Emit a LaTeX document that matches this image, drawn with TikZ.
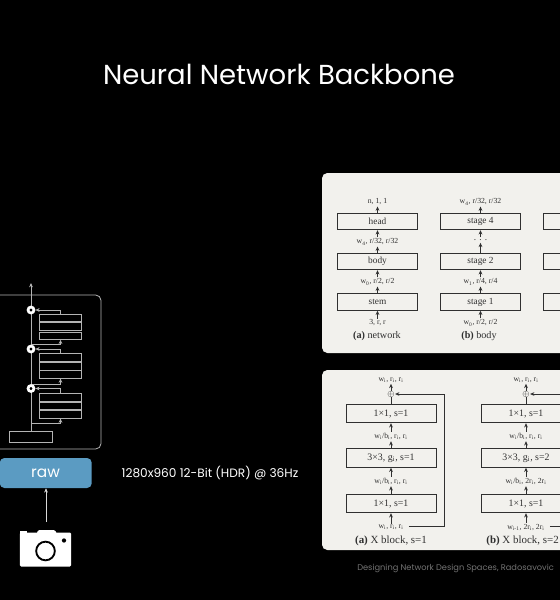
\documentclass[tikz,border=0pt]{standalone}
\usepackage{fontspec}
\setmainfont{Poppins}
\newfontfamily\paperfont{Liberation Serif}
\usetikzlibrary{arrows.meta}
\definecolor{panelgray}{HTML}{F2F1ED}
\definecolor{paperink}{HTML}{303030}
\definecolor{rawblue}{HTML}{5B9BC2}
\definecolor{linegray}{HTML}{B4B4B4}
\tikzset{
  tip/.style={-{Stealth[length=3.2pt,width=2.8pt]}},
  panel/.style={fill=panelgray,rounded corners=4pt},
  blockbox/.style={draw=paperink,fill=panelgray,line width=0.55pt,inner sep=0pt,minimum height=12.5pt,font=\paperfont\fontsize{7}{8}\selectfont,text=paperink},
  xbox/.style={blockbox,minimum width=67.5pt,minimum height=14pt,font=\paperfont\fontsize{7.4}{8}\selectfont},
  shape label/.style={inner sep=0.8pt,font=\paperfont\fontsize{5.8}{6.5}\selectfont,text=paperink},
  caption/.style={inner sep=0pt,font=\paperfont\fontsize{7.6}{9}\selectfont,text=paperink},
  xcaption/.style={caption,font=\paperfont\fontsize{8.2}{10}\selectfont},
  flow/.style={tip,draw=paperink,line width=0.55pt},
  sketch/.style={draw=linegray,line width=0.6pt},
  sketchbox/.style={sketch,inner sep=0pt,minimum width=32pt}
}
\newcommand{\sub}[1]{\textsubscript{#1}}
\begin{document}
\begin{tikzpicture}[x=0.75pt,y=-0.75pt]
\useasboundingbox (0,0) rectangle (560,600);
\fill[black] (0,0) rectangle (560,600);

\node[text=white,inner sep=0pt,font=\fontsize{20.6}{25}\selectfont] (title) at (279,74) {Neural Network Backbone};

% upper panel
\fill[panel] (322,173) rectangle (590,353);
\node[blockbox,minimum width=60.5pt] (head) at (377.5,221.5) {head};
\node[blockbox,minimum width=60.5pt] (body) at (377.5,261.5) {body};
\node[blockbox,minimum width=60.5pt] (stem) at (377.5,302) {stem};
\node[shape label] (sizeIn) at (377.5,323) {3, r, r};
\node[shape label] (sizeStem) at (377.5,282) {w\sub{0}, r/2, r/2};
\node[shape label] (sizeBody) at (377.5,242) {w\sub{4}, r/32, r/32};
\node[shape label] (sizeOut) at (377.5,202) {n, 1, 1};
\node[caption] (capNetwork) at (377,336) {\textbf{(a)} network};
\draw[flow] (sizeIn) -- (stem);
\draw[flow] (stem) -- (sizeStem);
\draw[flow] (sizeStem) -- (body);
\draw[flow] (body) -- (sizeBody);
\draw[flow] (sizeBody) -- (head);
\draw[flow] (head) -- (sizeOut);

\node[blockbox,minimum width=60.5pt] (stageFour) at (480.5,221.5) {stage 4};
\node[blockbox,minimum width=60.5pt] (stageTwo) at (480.5,261.5) {stage 2};
\node[blockbox,minimum width=60.5pt] (stageOne) at (480.5,302) {stage 1};
\node[shape label] (wIn) at (480.5,323) {w\sub{0}, r/2, r/2};
\node[shape label] (wOne) at (480.5,282) {w\sub{1}, r/4, r/4};
\node[shape label,inner sep=1.5pt,font=\paperfont\fontsize{7}{8}\selectfont] (dots) at (480.5,240) {.\hspace{2.4pt}.\hspace{2.4pt}.};
\node[shape label] (wOut) at (480.5,202) {w\sub{4}, r/32, r/32};
\node[caption] (capBody) at (479,336) {\textbf{(b)} body};
\draw[flow] (wIn) -- (stageOne);
\draw[flow] (stageOne) -- (wOne);
\draw[flow] (wOne) -- (stageTwo);
\draw[flow] (stageTwo) -- (dots);
\draw[flow] (dots) -- (stageFour);
\draw[flow] (stageFour) -- (wOut);

\foreach \n/\y in {c/221.5,b/261.5,a/302}
  \node[blockbox,minimum width=60.5pt] (third\n) at (583.5,\y) {};

% lower panel
\fill[panel] (322,370) rectangle (590,550);
\node[xbox] (topA) at (391,413.5) {1×1, s=1};
\node[xbox] (midA) at (391,458) {3×3, g\sub{i}, s=1};
\node[xbox] (lowA) at (391,503.5) {1×1, s=1};
\node[shape label] (inA) at (391,527.5) {w\sub{i}, r\sub{i}, r\sub{i}};
\node[shape label] (wlowA) at (391,481.5) {w\sub{i}/b\sub{i}, r\sub{i}, r\sub{i}};
\node[shape label] (wmidA) at (391,436.5) {w\sub{i}/b\sub{i}, r\sub{i}, r\sub{i}};
\node[text=paperink,inner sep=0pt,font=\fontsize{6.5}{6.5}\selectfont] (oplusA) at (391,394) {$\oplus$};
\node[shape label] (outA) at (391,380) {w\sub{i}, r\sub{i}, r\sub{i}};
\node[xcaption] (capA) at (391,540.5) {\textbf{(a)} X block, s=1};
\coordinate (skipA) at (444,526);
\draw[flow] (inA) -- (lowA);
\draw[flow] (lowA) -- (wlowA);
\draw[flow] (wlowA) -- (midA);
\draw[flow] (midA) -- (wmidA);
\draw[flow] (wmidA) -- (topA);
\draw[flow,-] (topA) -- (oplusA);
\draw[flow] (oplusA) -- (outA);
\draw[flow,shorten <=3pt] (inA.east |- skipA) -- (skipA) |- (oplusA);

\node[xbox] (topB) at (526,413.5) {1×1, s=1};
\node[xbox] (midB) at (526,458) {3×3, g\sub{i}, s=2};
\node[xbox] (lowB) at (526,503.5) {1×1, s=1};
\node[shape label] (inB) at (526,527.5) {w\sub{i-1}, 2r\sub{i}, 2r\sub{i}};
\node[shape label] (wlowB) at (526,481.5) {w\sub{i}/b\sub{i}, 2r\sub{i}, 2r\sub{i}};
\node[shape label] (wmidB) at (526,436.5) {w\sub{i}/b\sub{i}, r\sub{i}, r\sub{i}};
\node[text=paperink,inner sep=0pt,font=\fontsize{6.5}{6.5}\selectfont] (oplusB) at (526,394) {$\oplus$};
\node[shape label] (outB) at (526,380) {w\sub{i}, r\sub{i}, r\sub{i}};
\node[xcaption,anchor=east] (capB) at (559,540.5) {\textbf{(b)} X block, s=2};
\coordinate (skipB) at (579,526);
\draw[flow] (inB) -- (lowB);
\draw[flow] (lowB) -- (wlowB);
\draw[flow] (wlowB) -- (midB);
\draw[flow] (midB) -- (wmidB);
\draw[flow] (wmidB) -- (topB);
\draw[flow,-] (topB) -- (oplusB);
\draw[flow] (oplusB) -- (outB);
\draw[flow,shorten <=3pt] (inB.east |- skipB) -- (skipB) |- (oplusB);

% sketch of the network on the left
\draw[sketch,rounded corners=4pt] (-5,295) -- (101,295) -- (101,449) -- (-5,449);
\node[sketchbox,minimum height=8.5pt] (stemBox) at (31,436.7) {};
\coordinate (top) at (31,283);
\draw[sketch,tip] (stemBox) -- (top);
\foreach \n/\c/\a/\b/\d/\base in {1/310/318/326.5/335.7/344.5,2/349/357.5/366.5/374.5/384,3/388.5/397.5/406/414.5/423.7} {
  \node[draw=white,line width=2pt,circle,fill=black,inner sep=0pt,minimum size=4.5pt] (add\n) at (31,\c) {};
  \node[sketchbox,minimum height=5.5pt] (blockA\n) at (60.5,\a) {};
  \node[sketchbox,minimum height=5.5pt] (blockB\n) at (60.5,\b) {};
  \node[sketchbox,minimum height=5.5pt] (blockC\n) at (60.5,\d) {};
  \coordinate (base\n) at (31,\base);
  \draw[sketch,tip] (base\n) -- (blockC\n.south |- base\n) -- (blockC\n);
  \draw[sketch,tip] (blockA\n) |- (add\n);
}

% raw and camera
\node[fill=rawblue,rounded corners=3.5pt,minimum width=69pt,minimum height=22.5pt,inner sep=0pt,anchor=east] (raw) at (92,473) {};
\node[text=white,inner sep=0pt,font=\fontsize{11.5}{13}\selectfont] (rawText) at (45.5,473) {raw};
\node[fill=white,rounded corners=1pt,minimum width=38.5pt,minimum height=25.5pt,inner sep=0pt] (camera) at (45.5,549.5) {};
\fill[white,rounded corners=1pt] (36,536) -- (38,530) -- (55,530) -- (58,536) -- cycle;
\fill[white] (20,536) rectangle (27,530.5);
\draw[black,line width=1.4pt] (45.5,551) circle (7pt);
\fill[black] (64,540.5) circle (1.6pt);
\coordinate (cameraTop) at (46,522);
\draw[white!85!black,line width=0.6pt,tip] (cameraTop) -- (raw.south -| cameraTop);

\node[text=white,inner sep=0pt,font=\fontsize{9.1}{11}\selectfont] (format) at (210,473) {1280x960 12-Bit (HDR) @ 36Hz};
\node[text=white!45!black,inner sep=0pt,anchor=west,font=\fontsize{6.2}{8}\selectfont] (source) at (357,568) {Designing Network Design Spaces, Radosavovic};
\end{tikzpicture}
\end{document}
